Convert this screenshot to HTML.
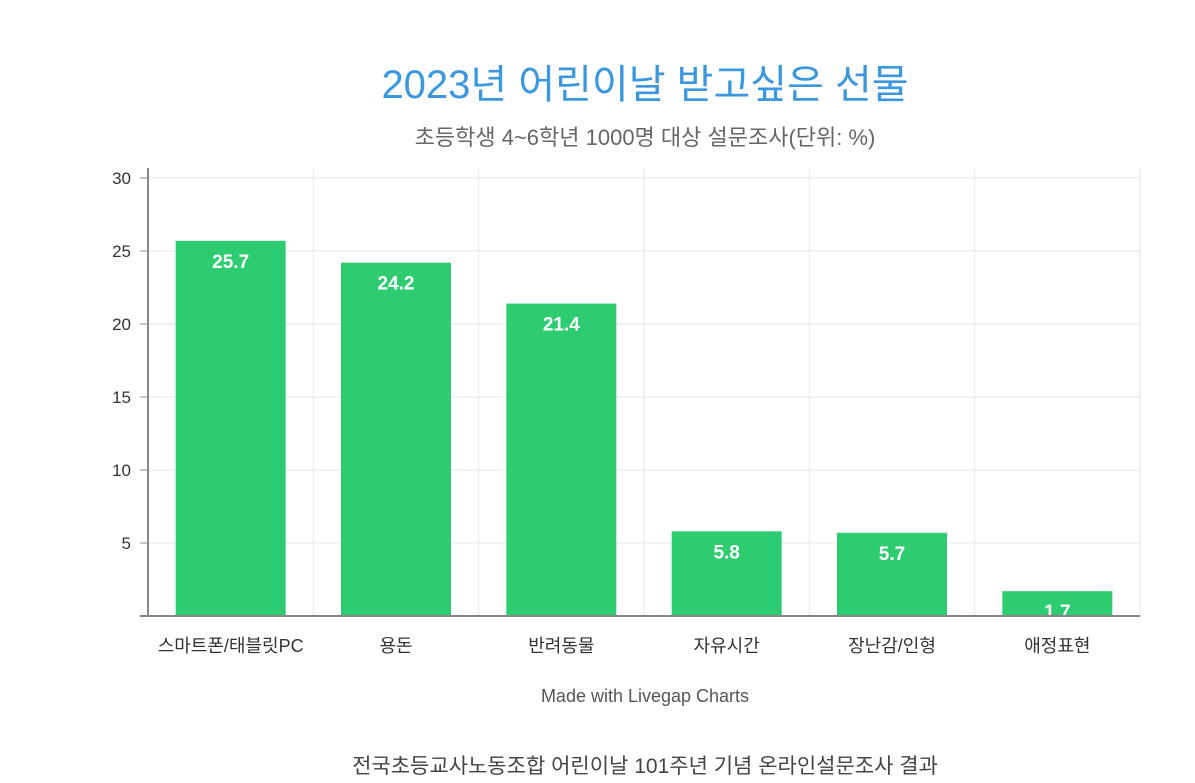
<!DOCTYPE html>
<html><head><meta charset="utf-8"><style>
body{margin:0;background:#fff;width:1195px;height:783px;overflow:hidden;font-family:"Liberation Sans","Noto Sans CJK KR",sans-serif}
</style></head><body>
<svg width="1195" height="783" style="position:absolute;left:0;top:0" font-family="Liberation Sans, Noto Sans CJK KR, sans-serif">
<text x="645" y="98" text-anchor="middle" font-size="40" fill="#3b97de">2023년 어린이날 받고싶은 선물</text>
<text x="645" y="145" text-anchor="middle" font-size="22" fill="#666">초등학생 4~6학년 1000명 대상 설문조사(단위: %)</text>
<g id="grid"></g><g id="bars"></g><g id="axes"></g>
<text x="645" y="702" text-anchor="middle" font-size="18" fill="#555">Made with Livegap Charts</text>
<text x="645" y="773" text-anchor="middle" font-size="21" fill="#444">전국초등교사노동조합 어린이날 101주년 기념 온라인설문조사 결과</text>
</svg>
<script>
const categories=["스마트폰/태블릿PC","용돈","반려동물","자유시간","장난감/인형","애정표현"];
const values=[25.7,24.2,21.4,5.8,5.7,1.7];
const yTicks=[5,10,15,20,25,30];
const NS="http://www.w3.org/2000/svg";
const x0=148,x1=1140,y0=616,yTop=178,yMax=30;
const colW=(x1-x0)/categories.length;
const y=v=>y0-(v/yMax)*(y0-yTop);
const xc=i=>x0+colW*(i+0.5);
function mk(t,a,p){const e=document.createElementNS(NS,t);for(const k in a)e.setAttribute(k,a[k]);p.appendChild(e);return e;}
const grid=document.getElementById('grid'),bars=document.getElementById('bars'),axes=document.getElementById('axes');
yTicks.forEach(t=>{
 const l=mk('line',{x1:x0,x2:x1,y1:y(t),y2:y(t),stroke:'#e6e6e6','stroke-width':1},grid);
 
 
 const tk=mk('line',{x1:x0-8,x2:x0,y1:y(t),y2:y(t),stroke:'#888','stroke-width':1},axes);
 
 
 const tx=mk('text',{x:x0-17,y:y(t)+6,'text-anchor':'end','font-size':17,fill:'#333'},axes);
 tx.textContent=t;
 
 
});
for(let i=1;i<=categories.length;i++){
 const l=mk('line',{x1:x0+colW*i,x2:x0+colW*i,y1:168,y2:y0,stroke:'#e6e6e6','stroke-width':1},grid);
 
 
}
categories.forEach((c,i)=>{
 const v=values[i],bw=110;
 const r=mk('rect',{x:xc(i)-bw/2,y:y(v),width:bw,height:y0-y(v),fill:'#2ecc71'},bars);
 
 
 const vl=mk('text',{x:xc(i),y:y(v)+27,'text-anchor':'middle','font-size':19,'font-weight':'bold',fill:'#fff'},bars);
 vl.textContent=v;
 
 
 const cl=mk('text',{x:xc(i),y:652,'text-anchor':'middle','font-size':18,fill:'#333'},axes);
 cl.textContent=c;
 
 
});
const ya=mk('line',{x1:x0,x2:x0,y1:168,y2:y0+1,stroke:'#888','stroke-width':2},axes);


const xa=mk('line',{x1:x0-8,x2:x1,y1:y0,y2:y0,stroke:'#888','stroke-width':2},axes);


</script>
</body></html>
